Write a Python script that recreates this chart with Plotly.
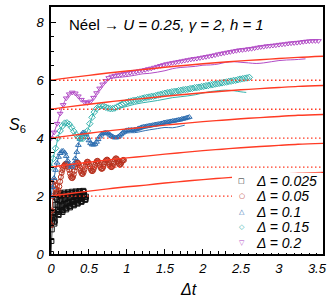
import plotly.graph_objects as go

# ---------------- data ----------------
# red reference curves (solid) and plateau levels (dotted)
red_t = [0, 0.25, 0.5, 0.75, 1.0, 1.25, 1.5, 1.75, 2.0, 2.25, 2.5, 2.75, 3.0, 3.25, 3.58]
red_2 = [2.0, 2.09, 2.17, 2.25, 2.32, 2.38, 2.45, 2.51, 2.57, 2.62, 2.67, 2.71, 2.75, 2.79, 2.82]
red_3 = [3.0, 3.09, 3.17, 3.25, 3.32, 3.38, 3.45, 3.51, 3.57, 3.62, 3.67, 3.71, 3.75, 3.79, 3.82]
red_4 = [4.0, 4.09, 4.17, 4.25, 4.32, 4.38, 4.45, 4.51, 4.57, 4.62, 4.67, 4.71, 4.75, 4.79, 4.82]
red_5 = [5.0, 5.09, 5.17, 5.25, 5.32, 5.38, 5.45, 5.51, 5.57, 5.62, 5.67, 5.71, 5.75, 5.79, 5.82]
red_6 = [6.0, 6.09, 6.17, 6.25, 6.32, 6.38, 6.45, 6.51, 6.57, 6.62, 6.67, 6.71, 6.75, 6.79, 6.83]
plateau_levels = [2, 3, 4, 5, 6]
x_extent = [0, 3.58]

# Δ = 0.025 (black squares), sampled every 0.005 in Δt
black_dt = 0.005
black_s = [0.0, 0.45, 0.85, 1.15, 1.35, 1.45, 1.4, 1.25, 1.1, 1.05,
           1.15, 1.4, 1.7, 1.95, 2.08, 2.05, 1.9, 1.7, 1.5, 1.38,
           1.35, 1.45, 1.65, 1.88, 2.05, 2.1, 2.02, 1.85, 1.65, 1.5,
           1.45, 1.52, 1.7, 1.9, 2.06, 2.12, 2.06, 1.9, 1.72, 1.58,
           1.54, 1.6, 1.76, 1.94, 2.08, 2.13, 2.08, 1.94, 1.77, 1.65,
           1.61, 1.66, 1.8, 1.97, 2.1, 2.15, 2.1, 1.97, 1.82, 1.71,
           1.68, 1.72, 1.85, 2.0, 2.12, 2.16, 2.12, 2.0, 1.87, 1.77,
           1.74, 1.78, 1.9, 2.03, 2.13, 2.17, 2.13, 2.03, 1.92, 1.83,
           1.8, 1.84, 1.94, 2.06, 2.15, 2.18, 2.14, 2.05, 1.96, 1.89,
           1.87, 1.9, 1.98]

# Δ = 0.05 (red circles), sampled every 0.01
red_dt = 0.01
redc_s = [1.0, 1.5, 2.0, 2.35, 2.52, 2.5, 2.38, 2.24, 2.15, 2.13,
          2.2, 2.33, 2.5, 2.66, 2.8, 2.9, 2.98, 3.04, 3.08, 3.11,
          3.12, 3.12, 3.08, 3.0, 2.9, 2.78, 2.68, 2.63, 2.62, 2.66,
          2.75, 2.87, 3.0, 3.1, 3.15, 3.16, 3.13, 3.06, 2.97, 2.87,
          2.8, 2.76, 2.77, 2.83, 2.92, 3.02, 3.11, 3.17, 3.19, 3.17,
          3.11, 3.03, 2.95, 2.89, 2.86, 2.87, 2.92, 3.0, 3.08, 3.15,
          3.2, 3.22, 3.2, 3.15, 3.07, 3.0, 2.95, 2.94, 2.96, 3.02,
          3.1, 3.17, 3.22, 3.25, 3.26, 3.23, 3.17, 3.1, 3.04, 3.0,
          3.0, 3.04, 3.11, 3.19, 3.26, 3.3, 3.3, 3.27, 3.2, 3.13,
          3.09, 3.08, 3.11, 3.17, 3.22, 3.25, 3.24]

# Δ = 0.1 (blue triangles), sampled every 0.02
blue_dt = 0.02
blue_s = [2.0, 2.3, 2.62, 2.9, 3.15, 3.35, 3.48, 3.55, 3.56, 3.5,
          3.38, 3.22, 3.08, 3.01, 3.02, 3.12, 3.3, 3.52, 3.76, 3.97,
          4.12, 4.19, 4.2, 4.14, 4.03, 3.92, 3.83, 3.78, 3.77, 3.8,
          3.87, 3.96, 4.05, 4.12, 4.16, 4.18, 4.19, 4.18, 4.15, 4.11,
          4.07, 4.04, 4.02, 4.02, 4.04, 4.08, 4.13, 4.18, 4.22, 4.25,
          4.27, 4.28, 4.28, 4.28, 4.28, 4.29, 4.3, 4.32, 4.34, 4.36,
          4.38, 4.39, 4.4, 4.41, 4.42, 4.43, 4.44, 4.45, 4.46, 4.47,
          4.48, 4.49, 4.5, 4.51, 4.53, 4.54, 4.55, 4.56, 4.57, 4.58,
          4.59, 4.6, 4.61, 4.62, 4.63, 4.64, 4.66, 4.67, 4.68, 4.7,
          4.71, 4.73]
blue_line_t = [0, 0.04, 0.08, 0.12, 0.16, 0.18, 0.22, 0.26, 0.28, 0.3,
               0.32, 0.36, 0.4, 0.44, 0.48, 0.52, 0.56, 0.6, 0.64, 0.68,
               0.72, 0.76, 0.8, 0.84, 0.88, 0.92, 0.96, 1.0, 1.05, 1.1,
               1.15, 1.2, 1.3, 1.4, 1.5, 1.6, 1.7, 1.76]
blue_line_s = [2.0, 2.62, 3.15, 3.48, 3.56, 3.5, 3.22, 3.01, 3.02, 3.12,
               3.3, 3.76, 4.12, 4.2, 4.03, 3.83, 3.77, 3.87, 4.05, 4.16,
               4.19, 4.15, 4.07, 4.02, 4.02, 4.08, 4.15, 4.18, 4.19, 4.19,
               4.21, 4.24, 4.29, 4.33, 4.37, 4.36, 4.41, 4.45]

# Δ = 0.15 (cyan diamonds), sampled every 0.03
cyan_dt = 0.03
cyan_s = [3.0, 3.3, 3.65, 4.0, 4.25, 4.42, 4.52, 4.53, 4.48, 4.37,
          4.24, 4.12, 4.03, 3.98, 3.99, 4.07, 4.25, 4.5, 4.72, 4.9,
          5.02, 5.09, 5.12, 5.11, 5.07, 5.04, 5.02, 5.02, 5.04, 5.08,
          5.12, 5.16, 5.2, 5.23, 5.26, 5.28, 5.3, 5.31, 5.33, 5.35,
          5.37, 5.39, 5.41, 5.42, 5.44, 5.45, 5.47, 5.49, 5.51, 5.53,
          5.55, 5.57, 5.58, 5.6, 5.61, 5.62, 5.64, 5.65, 5.67, 5.68,
          5.69, 5.71, 5.72, 5.74, 5.75, 5.76, 5.78, 5.79, 5.81, 5.82,
          5.84, 5.85, 5.87, 5.88, 5.9, 5.91, 5.93, 5.94, 5.96, 5.97,
          5.99, 6.0, 6.02, 6.04, 6.05, 6.07, 6.08, 6.1]
cyan_line_t = [0, 0.06, 0.12, 0.18, 0.24, 0.3, 0.36, 0.42, 0.48, 0.54,
               0.6, 0.66, 0.72, 0.78, 0.84, 0.9, 1.0, 1.1, 1.2, 1.3,
               1.4, 1.5, 1.6, 1.7, 1.8, 1.9, 2.0, 2.1, 2.2, 2.3,
               2.4, 2.5, 2.57]
cyan_line_s = [3.0, 3.65, 4.25, 4.52, 4.48, 4.24, 4.03, 3.99, 4.25, 4.72,
               5.02, 5.1, 5.05, 4.99, 4.99, 5.03, 5.1, 5.17, 5.22, 5.26,
               5.3, 5.35, 5.4, 5.43, 5.46, 5.5, 5.56, 5.61, 5.64, 5.66,
               5.64, 5.6, 5.58]

# Δ = 0.2 (purple down-triangles), sampled every 0.04
purple_dt = 0.04
purple_s = [4.0, 4.2, 4.5, 4.85, 5.15, 5.38, 5.52, 5.58, 5.55, 5.45,
            5.33, 5.25, 5.22, 5.27, 5.4, 5.56, 5.72, 5.86, 5.98, 6.08,
            6.13, 6.16, 6.18, 6.2, 6.22, 6.24, 6.26, 6.28, 6.3, 6.32,
            6.34, 6.36, 6.39, 6.41, 6.44, 6.47, 6.5, 6.53, 6.56, 6.58,
            6.6, 6.62, 6.64, 6.66, 6.68, 6.7, 6.72, 6.74, 6.75, 6.77,
            6.79, 6.81, 6.83, 6.85, 6.87, 6.9, 6.92, 6.94, 6.96, 6.98,
            7.0, 7.02, 7.04, 7.05, 7.06, 7.08, 7.09, 7.11, 7.13, 7.15,
            7.16, 7.18, 7.19, 7.2, 7.21, 7.23, 7.24, 7.25, 7.27, 7.28,
            7.29, 7.3, 7.31, 7.33, 7.34, 7.35, 7.36, 7.36, 7.36]
purple_line_t = [0, 0.04, 0.08, 0.12, 0.16, 0.2, 0.24, 0.28, 0.32, 0.36,
                 0.4, 0.44, 0.48, 0.52, 0.56, 0.6, 0.64, 0.68, 0.72, 0.76,
                 0.8, 0.9, 1.0, 1.1, 1.2, 1.3, 1.4, 1.5, 1.6, 1.7,
                 1.8, 1.9, 2.0, 2.1, 2.2, 2.3, 2.4, 2.5, 2.6, 2.7,
                 2.8, 2.9, 3.0, 3.1, 3.2, 3.35]
purple_line_s = [4.0, 4.2, 4.5, 4.85, 5.15, 5.38, 5.52, 5.58, 5.55, 5.45,
                 5.33, 5.25, 5.22, 5.27, 5.4, 5.56, 5.72, 5.86, 5.97, 6.04,
                 6.07, 6.1, 6.13, 6.17, 6.22, 6.24, 6.28, 6.33, 6.4, 6.44,
                 6.46, 6.48, 6.52, 6.53, 6.56, 6.62, 6.64, 6.62, 6.6, 6.58,
                 6.6, 6.64, 6.68, 6.7, 6.71, 6.74]

legend_labels = ["Δ = 0.025", "Δ = 0.05", "Δ = 0.1", "Δ = 0.15", "Δ = 0.2"]
legend_glyphs = ["□", "○", "△", "◇", "▽"]
y_tick_vals = [0, 2, 4, 6, 8]
x_tick_vals = [0, 0.5, 1, 1.5, 2, 2.5, 3, 3.5]
x_tick_text = ["0", "0.5", "1", "1.5", "2", "2.5", "3", "3.5"]

# ---------------- style ----------------
W, H = 332, 307
ML, MR, MT, MB = 51, 6, 5, 53
PW, PH = W - ML - MR, H - MT - MB
FONT = "Liberation Sans, Arial, Helvetica, sans-serif"
C_BLACK = "#111111"
C_REDC = "#b8321f"
C_BLUE = "#2c6db0"
C_CYAN = "#35b2ad"
C_PURPLE = "#b24cc6"
C_RED = "#ff3b24"


def grid(dt, n):
    return [round(i * dt, 4) for i in range(n)]


def paper(px, py):
    return (px - ML) / PW, (H - MB - py) / PH


fig = go.Figure()

# data series
fig.add_trace(go.Scatter(x=grid(black_dt, len(black_s)), y=black_s, mode="lines+markers",
                         line=dict(color=C_BLACK, width=0.8),
                         marker=dict(symbol="square-open", size=5, color=C_BLACK, line=dict(width=1)),
                         showlegend=False))
fig.add_trace(go.Scatter(x=grid(red_dt, len(redc_s)), y=redc_s, mode="lines+markers",
                         line=dict(color=C_REDC, width=0.8),
                         marker=dict(symbol="circle-open", size=5, color=C_REDC, line=dict(width=1)),
                         showlegend=False))
fig.add_trace(go.Scatter(x=blue_line_t, y=blue_line_s, mode="lines", line=dict(color=C_BLUE, width=1),
                         line_shape="spline", showlegend=False))
fig.add_trace(go.Scatter(x=grid(blue_dt, len(blue_s)), y=blue_s, mode="markers",
                         marker=dict(symbol="triangle-up-open", size=5, color=C_BLUE, line=dict(width=1)),
                         showlegend=False))
fig.add_trace(go.Scatter(x=cyan_line_t, y=cyan_line_s, mode="lines", line=dict(color=C_CYAN, width=1),
                         line_shape="spline", showlegend=False))
fig.add_trace(go.Scatter(x=grid(cyan_dt, len(cyan_s)), y=cyan_s, mode="markers",
                         marker=dict(symbol="diamond-open", size=5, color=C_CYAN, line=dict(width=1)),
                         showlegend=False))
fig.add_trace(go.Scatter(x=purple_line_t, y=purple_line_s, mode="lines", line=dict(color=C_PURPLE, width=1),
                         line_shape="spline", showlegend=False))
fig.add_trace(go.Scatter(x=grid(purple_dt, len(purple_s)), y=purple_s, mode="markers",
                         marker=dict(symbol="triangle-down-open", size=5, color=C_PURPLE, line=dict(width=1)),
                         showlegend=False))

# red dotted plateaus and solid curves
for lv in plateau_levels:
    fig.add_trace(go.Scatter(x=x_extent, y=[lv, lv], mode="lines",
                             line=dict(color=C_RED, width=1.4, dash="1.5px,2.5px"), showlegend=False))
for curve in [red_2, red_3, red_4, red_5, red_6]:
    fig.add_trace(go.Scatter(x=red_t, y=curve, mode="lines", line=dict(color=C_RED, width=1.4),
                             line_shape="spline", showlegend=False))

axis_common = dict(showline=True, linecolor="black", linewidth=1.5, mirror=True,
                   ticks="inside", tickcolor="black", tickwidth=1, showgrid=False, zeroline=False,
                   tickfont=dict(family=FONT, size=13, color="black", style="italic"))
fig.update_xaxes(range=[0, 3.58], tickvals=x_tick_vals, ticktext=x_tick_text, ticklen=5,
                 minor=dict(dtick=0.1, tick0=0, ticklen=3, ticks="inside", tickcolor="black", tickwidth=1),
                 ticklabelstandoff=2, **axis_common)
fig.update_yaxes(range=[0, 8.53], tickvals=y_tick_vals, ticklen=5,
                 minor=dict(dtick=0.5, tick0=0, ticklen=3, ticks="inside", tickcolor="black", tickwidth=1),
                 ticklabelstandoff=3, **axis_common)

annotations = []
x0, y0 = paper(67, 23)
annotations.append(dict(x=x0, y=y0, xref="paper", yref="paper", xanchor="left", yanchor="middle",
                        text="Néel → <i>U = 0.25, γ = 2, h = 1</i>", showarrow=False,
                        font=dict(family=FONT, size=15, color="black")))
x0, y0 = paper(17, 124)
annotations.append(dict(x=x0, y=y0, xref="paper", yref="paper", xanchor="center", yanchor="middle",
                        text="<i>S</i><sub>6</sub>", showarrow=False,
                        font=dict(family=FONT, size=16, color="black")))
x0, y0 = paper(190, 290)
annotations.append(dict(x=x0, y=y0, xref="paper", yref="paper", xanchor="center", yanchor="middle",
                        text="<i>Δt</i>", showarrow=False,
                        font=dict(family=FONT, size=16, color="black")))

leg_colors = [C_BLACK, C_REDC, C_BLUE, C_CYAN, C_PURPLE]
leg_y = [180.5, 196, 211.6, 227.2, 242.8]
for lab, gl, col, py in zip(legend_labels, legend_glyphs, leg_colors, leg_y):
    gx, gy = paper(244, py)
    annotations.append(dict(x=gx, y=gy, xref="paper", yref="paper", xanchor="center", yanchor="middle",
                            text=gl, showarrow=False,
                            font=dict(family="DejaVu Sans", size=7, color=col)))
    tx, ty = paper(256, py)
    annotations.append(dict(x=tx, y=ty, xref="paper", yref="paper", xanchor="left", yanchor="middle",
                            text="<i>" + lab + "</i>", showarrow=False,
                            font=dict(family=FONT, size=14, color="black")))

bx0, by0 = paper(234, 253)
bx1, by1 = paper(324.5, 172)
shapes = [dict(type="rect", xref="paper", yref="paper", x0=bx0, y0=by0, x1=bx1, y1=by1,
               fillcolor="white", line=dict(width=0), layer="above")]

fig.update_layout(width=W, height=H, margin=dict(l=ML, r=MR, t=MT, b=MB, pad=0),
                  plot_bgcolor="white", paper_bgcolor="white", showlegend=False,
                  annotations=annotations, shapes=shapes,
                  font=dict(family=FONT, color="black"))

fig.write_html("out.html", config={"displayModeBar": False},
               post_script="document.body.style.margin='0';document.body.style.overflow='hidden';")
